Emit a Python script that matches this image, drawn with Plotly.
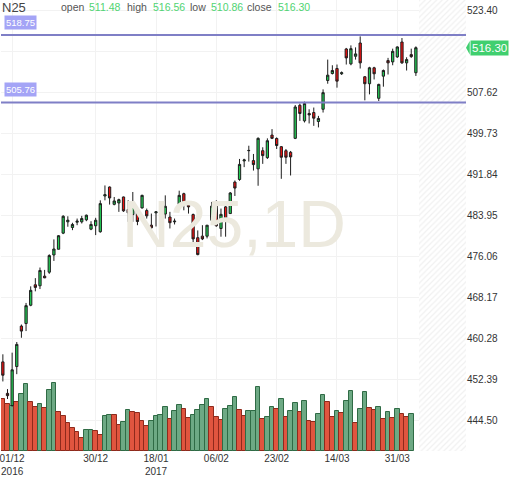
import plotly.graph_objects as go

# daily bars, 1 Dec 2016 -> early Apr 2017
opens = [
    455.74, 449.67, 447.32, 454.84, 462.64, 463.13, 466.66, 470.60, 470.41, 472.27,
    473.03, 476.35, 477.45, 480.56, 482.74, 481.65, 482.67, 482.74, 483.13, 481.33,
    481.98, 480.83, 487.72, 489.45, 486.11, 486.38, 487.53, 485.10, 484.14, 484.96,
    485.42, 484.91, 482.09, 484.47, 486.38, 484.24, 483.66, 482.74, 486.11, 488.16,
    486.25, 484.14, 479.68, 479.98, 479.97, 483.05, 486.38, 481.46, 485.62, 484.33,
    490.40, 490.90, 494.48, 496.45, 494.54, 492.95, 496.45, 495.11, 499.46, 498.80,
    497.22, 496.45, 496.15, 498.83, 505.21, 502.20, 503.62, 503.81, 502.08, 504.44,
    509.99, 511.33, 512.29, 511.28, 516.06, 513.19, 514.65, 517.21, 510.70, 509.36,
    512.43, 506.55, 510.82, 513.82, 513.57, 514.53, 517.40, 513.38, 514.97, 511.48,
]
highs = [
    457.20, 450.49, 457.52, 459.57, 462.94, 467.10, 470.30, 471.88, 473.93, 473.47,
    476.48, 479.35, 480.18, 484.01, 483.81, 482.55, 483.37, 483.89, 484.14, 482.86,
    483.51, 486.88, 489.75, 489.55, 487.53, 487.20, 487.60, 486.88, 488.49, 485.62,
    487.97, 485.29, 484.33, 484.72, 486.57, 487.84, 484.66, 483.37, 488.74, 488.35,
    486.57, 484.33, 481.08, 482.09, 482.12, 486.57, 486.88, 485.29, 485.92, 488.49,
    490.71, 494.86, 494.90, 497.41, 495.82, 499.02, 497.11, 498.83, 500.61, 499.02,
    497.35, 496.78, 496.40, 505.26, 505.53, 505.91, 504.44, 504.77, 503.16, 508.27,
    514.01, 512.92, 513.06, 511.72, 516.26, 516.75, 516.37, 518.48, 510.82, 512.62,
    512.62, 509.36, 512.10, 514.34, 516.12, 516.56, 518.17, 514.46, 516.12, 516.56,
]
lows = [
    451.97, 448.58, 447.12, 453.37, 460.39, 461.68, 466.47, 469.34, 469.78, 471.88,
    472.71, 475.20, 477.44, 480.37, 481.79, 481.13, 482.09, 482.42, 482.86, 481.13,
    480.18, 480.64, 486.88, 486.06, 485.92, 484.66, 484.66, 482.74, 482.74, 482.09,
    485.29, 483.37, 480.18, 481.84, 482.80, 483.37, 481.46, 482.23, 485.29, 484.96,
    484.33, 477.96, 476.29, 479.22, 479.54, 482.74, 481.79, 479.87, 479.87, 484.30,
    487.72, 490.65, 493.28, 494.35, 492.62, 489.69, 493.91, 494.86, 498.69, 496.78,
    491.03, 493.91, 491.67, 498.69, 502.20, 501.89, 501.70, 501.24, 500.94, 503.81,
    509.36, 511.14, 508.60, 511.05, 513.06, 512.92, 514.01, 512.29, 506.16, 507.31,
    510.18, 506.03, 508.79, 511.14, 512.92, 514.34, 513.19, 511.91, 514.34, 510.86,
]
closes = [
    453.17, 449.23, 454.21, 459.11, 461.68, 466.58, 469.53, 470.10, 473.36, 471.94,
    476.23, 477.50, 480.06, 483.81, 483.05, 482.23, 482.86, 483.37, 484.01, 482.23,
    483.05, 486.25, 487.97, 487.34, 486.76, 487.01, 484.85, 484.47, 486.44, 482.80,
    487.84, 483.89, 481.59, 484.66, 484.39, 485.73, 482.57, 482.86, 487.84, 486.19,
    485.62, 479.45, 476.42, 479.45, 482.09, 485.77, 481.98, 484.18, 483.37, 488.30,
    489.25, 493.81, 494.67, 496.50, 493.77, 498.83, 495.50, 498.37, 498.83, 497.45,
    495.19, 495.19, 495.25, 504.88, 503.62, 505.53, 503.35, 502.72, 502.66, 507.64,
    511.01, 511.91, 509.86, 511.47, 514.34, 516.12, 515.11, 513.38, 509.36, 512.43,
    511.28, 509.23, 511.91, 513.38, 515.60, 516.45, 513.38, 514.01, 514.59, 516.30,
]
# volume (thousands) - last session has no volume bar yet
volume = [
    523, 470, 457, 490, 570, 670, 490, 440, 473, 430,
    610, 683, 390, 350, 280, 233, 187, 130, 207, 207,
    197, 163, 357, 363, 363, 257, 297, 417, 390, 383,
    307, 247, 307, 357, 363, 440, 323, 400, 467, 423,
    330, 367, 417, 467, 523, 440, 340, 317, 423, 457,
    540, 413, 357, 400, 407, 640, 323, 347, 440, 423,
    523, 340, 407, 483, 390, 500, 307, 290, 373, 567,
    490, 347, 407, 380, 500, 607, 280, 423, 590, 433,
    413, 447, 323, 390, 330, 423, 373, 347, 373,
]
vol_dir = list("RRGRGGRRGR" "GGRRRRRRGG" "RRGGRRGGRR" "RRGGGGRGGR" "RGGGGRRRGG"
               "GRRGGGRGGR" "GRGGRGRRGG" "RRGRGGRGGR" "RGRGRGRRG")

tick_bars = [2, 20, 33, 46, 59, 72, 85]
tick_text = ["01/12<br>2016", "30/12", "18/01<br>2017", "06/02", "23/02", "14/03", "31/03"]
price_ticks = [444.50, 452.39, 460.28, 468.17, 476.06, 483.95, 491.84, 499.73, 507.62, 515.51, 523.40]
levels = [518.75, 505.76]
symbol = "N25"
last = {"open": opens[-1], "high": highs[-1], "low": lows[-1], "close": closes[-1]}

FONT = "Liberation Sans, Arial, sans-serif"
bars = list(range(len(closes)))
c = last["close"]

fig = go.Figure()

# hatched "future" zone right of the last bar
fig.add_trace(go.Bar(
    x=[94.85], y=[4540], width=[10.3], yaxis="y",
    marker=dict(color="white", line_width=0,
                pattern=dict(shape="/", fgcolor="#e2e2e2", bgcolor="white", size=4, solidity=0.3)),
    hoverinfo="skip", showlegend=False))

# volume
fig.add_trace(go.Bar(
    x=bars[:len(volume)], y=volume, width=1.0, yaxis="y",
    marker=dict(color=["#e0553f" if d == "R" else "#6da984" for d in vol_dir],
                line=dict(color=["#8e2a1c" if d == "R" else "#2f6b45" for d in vol_dir], width=1)),
    hoverinfo="skip", showlegend=False))

# watermark behind the candles
fig.add_trace(go.Scatter(
    x=[49.8], y=[481.0], yaxis="y2", mode="text", text=[symbol + ",1D"],
    textfont=dict(size=66, color="#ece9de", family=FONT),
    hoverinfo="skip", showlegend=False))

fig.add_trace(go.Candlestick(
    x=bars, open=opens, high=highs, low=lows, close=closes, yaxis="y2",
    increasing=dict(fillcolor="#22cc55", line=dict(color="#1e1e1e", width=1)),
    decreasing=dict(fillcolor="#ee1111", line=dict(color="#1e1e1e", width=1)),
    whiskerwidth=0, showlegend=False))

shapes = []
for lv in levels:
    shapes.append(dict(type="line", xref="paper", x0=0, x1=1, yref="y2", y0=lv, y1=lv,
                       line=dict(color="#7f7fc6", width=2), layer="above"))
shapes.append(dict(type="path", xref="paper", yref="y2",
                   path=f"M 1.0,{c} L 1.008,{c + 1.3} L 1.008,{c - 1.3} Z",
                   fillcolor="#40cf6f", line_width=0))

annotations = []
for lv in levels:
    annotations.append(dict(xref="paper", x=0.006, xanchor="left", yref="y2", y=lv,
                            yanchor="bottom", yshift=5, text=f"{lv:.2f}", showarrow=False,
                            bgcolor="#a4a4f6", borderpad=1,
                            font=dict(size=9.5, color="white", family=FONT)))
annotations.append(dict(xref="paper", x=1.008, xanchor="left", yref="y2", y=c,
                        yanchor="middle", text=f"{c:.2f}", showarrow=False,
                        bgcolor="#40cf6f", borderpad=1,
                        font=dict(size=11.5, color="white", family=FONT)))

# header line: symbol + OHLC of the last bar
hy = 1 - 7.5 / 454
annotations.append(dict(xref="paper", yref="paper", x=-0.003, y=1 - 7.5 / 454, xanchor="left",
                        yanchor="middle", text=symbol, showarrow=False,
                        font=dict(size=13, color="#444", family=FONT)))
head_x = {"open": 58, "high": 124, "low": 187, "close": 245}
val_dx = {"open": 28, "high": 26, "low": 21, "close": 31}
for k, px in head_x.items():
    annotations.append(dict(xref="paper", yref="paper", x=px / 466, y=hy, xanchor="left",
                            yanchor="middle", text=k, showarrow=False,
                            font=dict(size=10.5, color="#555", family=FONT)))
    annotations.append(dict(xref="paper", yref="paper", x=(px + val_dx[k]) / 466, y=hy,
                            xanchor="left", yanchor="middle", text=f"{last[k]:.2f}",
                            showarrow=False,
                            font=dict(size=10.5, color="#4fd472", family=FONT)))

# the last-price tag hides the tick label behind it
price_text = ["" if abs(v - c) < 2 else f"{v:.2f}" for v in price_ticks]

fig.update_layout(
    width=512, height=477,
    margin=dict(l=0, r=46, t=0, b=23),
    paper_bgcolor="white", plot_bgcolor="white",
    font=dict(family=FONT, size=10, color="#333"),
    showlegend=False, barmode="overlay", bargap=0,
    xaxis=dict(range=[-0.4, 99.8], tickvals=tick_bars, ticktext=tick_text,
               showgrid=True, gridcolor="#f2f2f2", zeroline=False, showline=False,
               ticks="", tickfont=dict(size=10, color="#333"), ticklabeloverflow="allow",
               rangeslider=dict(visible=False)),
    yaxis=dict(range=[0, 4540], visible=False, showgrid=False),
    yaxis2=dict(overlaying="y", side="right", range=[438.56, 525.5],
                tickvals=price_ticks, ticktext=price_text,
                showgrid=True, gridcolor="#f2f2f2", zeroline=False, showline=False,
                ticks="", tickfont=dict(size=10, color="#333")),
    shapes=shapes, annotations=annotations,
)

fig.write_html("out.html", config={"displayModeBar": False},
               post_script="document.body.style.margin='0';")
